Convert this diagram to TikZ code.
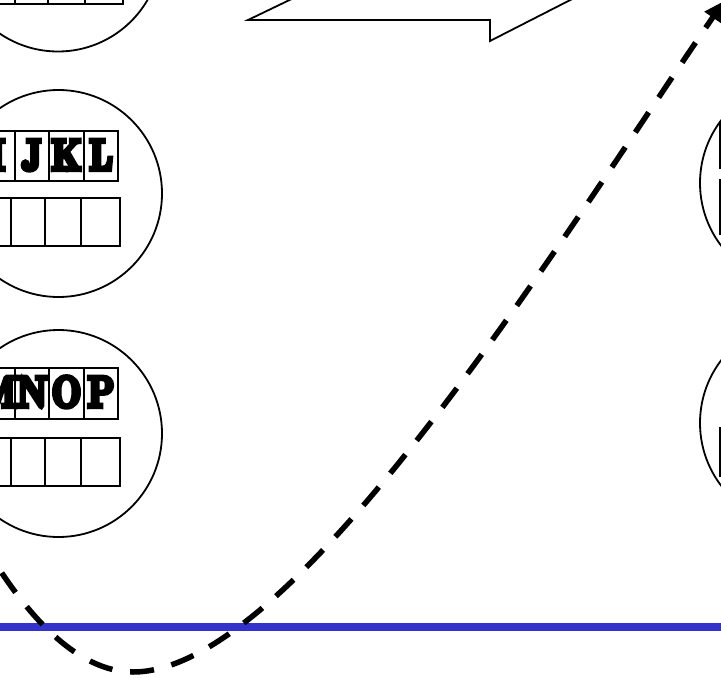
\documentclass[tikz,border=0pt]{standalone}
\usepackage{fontspec}
\usetikzlibrary{arrows.meta}
\newfontfamily\fatface{lmroman10-bold.otf}[FakeBold=10,FakeStretch=0.76]
\definecolor{rulerblue}{RGB}{51,51,204}
\begin{document}
\begin{tikzpicture}[x=1pt,y=-1pt,
  ring/.style={draw=black,line width=1.8pt},
  cell/.style={draw=black,line width=1.8pt},
  glyph/.style={font=\fatface\fontsize{44}{44}\selectfont,anchor=base,inner sep=0pt},
  outline/.style={draw=black,line width=1.8pt,line join=miter},
  path/.style={draw=black,line width=5.5pt,dash pattern=on 24pt off 18pt,
     -{Triangle[length=20pt,width=19pt]}},
  rule/.style={draw=rulerblue,line width=8pt}]
\useasboundingbox (0,0) rectangle (721,678);
\clip (0,0) rectangle (721,678);
\fill[white] (0,0) rectangle (721,678);

% circles on the left
\node[ring,circle,minimum size=207pt,inner sep=0pt] (c1) at (58,-52) {};
\node[ring,circle,minimum size=207pt,inner sep=0pt] (c2) at (58.5,193.5) {};
\node[ring,circle,minimum size=207pt,inner sep=0pt] (c3) at (58.5,433.5) {};
% circles on the right
\node[ring,circle,minimum size=207pt,inner sep=0pt] (c4) at (803.5,183) {};
\node[ring,circle,minimum size=207pt,inner sep=0pt] (c5) at (803.5,423) {};

% top circle: lower row of cells
\foreach \a/\b in {-25/15,15/48,48/85,85/123}
  \draw[cell] (\a,-46) rectangle (\b,4);

% second circle
\foreach \a/\b in {-20/15,15/49,49/84,84/118}
  \draw[cell] (\a,131) rectangle (\b,181);
\foreach \a/\b in {-25/11,11/45,45/81,81/120}
  \draw[cell] (\a,198) rectangle (\b,246);
\node[glyph] (lI) at (-2.5,170) {I};
\node[glyph] (lJ) at (32,170) {J};
\node[glyph] (lK) at (66.5,170) {K};
\node[glyph] (lL) at (101,170) {L};

% third circle
\foreach \a/\b in {-20/15,15/49,49/84,84/118}
  \draw[cell] (\a,368) rectangle (\b,419);
\foreach \a/\b in {-25/11,11/45,45/81,81/120}
  \draw[cell] (\a,438) rectangle (\b,486);
\node[glyph] (lM) at (-2.5,407) {M};
\node[glyph] (lN) at (32,407) {N};
\node[glyph] (lO) at (66.5,407) {O};
\node[glyph] (lP) at (101,407) {P};

% right circles: visible cell edges
\draw[cell] (720,122) rectangle (760,168);
\draw[cell] (720,180) rectangle (760,234);
\draw[cell] (720,428) rectangle (760,476);

% block arrow outline at the top
\draw[outline] (302,-6) -- (248,20) -- (490,20) -- (490,41) -- (582,-6);

% blue rule
\coordinate (r0) at (0,627);
\coordinate (r1) at (721,627);
\draw[rule] (r0) -- (r1);

% dashed curved arrow
\coordinate (s) at (-40,500);
\coordinate (m) at (133,672);
\coordinate (e) at (724,1);
\draw[path] (s) .. controls (20,620) and (80,672) .. (m)
  .. controls (295,672) and (560,240) .. (e);
\end{tikzpicture}
\end{document}
